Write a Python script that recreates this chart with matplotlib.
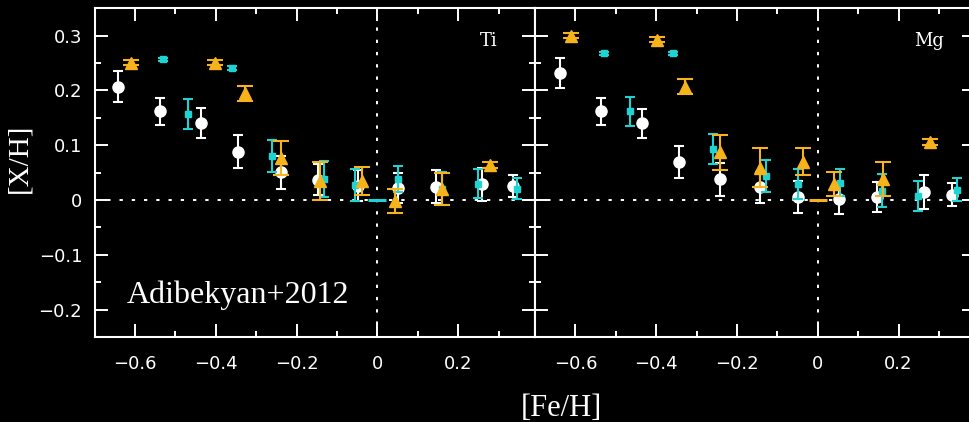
import matplotlib
matplotlib.use("Agg")
import matplotlib.pyplot as plt
from matplotlib.ticker import FixedLocator, FixedFormatter, MultipleLocator

# ---------------- data ----------------
ti_white_x = [-0.642, -0.539, -0.437, -0.346, -0.240, -0.146, -0.048, 0.051, 0.146, 0.260, 0.336]
ti_white_y = [0.207, 0.162, 0.141, 0.088, 0.051, 0.037, 0.026, 0.022, 0.024, 0.029, 0.026]
ti_white_e = [0.028, 0.025, 0.027, 0.030, 0.030, 0.028, 0.028, 0.027, 0.030, 0.030, 0.020]

ti_cyan_x = [-0.532, -0.468, -0.361, -0.261, -0.133, -0.055, 0.052, 0.161, 0.248, 0.345]
ti_cyan_y = [0.257, 0.157, 0.241, 0.080, 0.038, 0.028, 0.038, 0.021, 0.030, 0.021]
ti_cyan_e = [0.003, 0.027, 0.003, 0.029, 0.033, 0.029, 0.024, 0.030, 0.027, 0.020]

ti_orange_x = [-0.611, -0.401, -0.329, -0.240, -0.143, -0.038, 0.043, 0.159, 0.278]
ti_orange_y = [0.251, 0.251, 0.195, 0.077, 0.035, 0.035, -0.002, 0.020, 0.064]
ti_orange_e = [0.005, 0.005, 0.014, 0.031, 0.035, 0.026, 0.022, 0.029, 0.005]

mg_white_x = [-0.639, -0.537, -0.435, -0.344, -0.241, -0.144, -0.048, 0.052, 0.147, 0.262, 0.333]
mg_white_y = [0.232, 0.162, 0.140, 0.070, 0.038, 0.023, 0.006, 0.001, 0.006, 0.014, 0.010]
mg_white_e = [0.028, 0.025, 0.027, 0.029, 0.030, 0.028, 0.029, 0.027, 0.027, 0.031, 0.021]

mg_cyan_x = [-0.530, -0.466, -0.359, -0.260, -0.129, -0.049, 0.054, 0.159, 0.248, 0.344]
mg_cyan_y = [0.268, 0.162, 0.268, 0.093, 0.044, 0.029, 0.032, 0.017, 0.007, 0.019]
mg_cyan_e = [0.003, 0.027, 0.003, 0.028, 0.029, 0.028, 0.024, 0.030, 0.027, 0.021]

mg_orange_x = [-0.610, -0.399, -0.328, -0.241, -0.142, -0.037, 0.041, 0.161, 0.279]
mg_orange_y = [0.300, 0.293, 0.207, 0.087, 0.059, 0.070, 0.029, 0.038, 0.106]
mg_orange_e = [0.005, 0.005, 0.014, 0.032, 0.036, 0.025, 0.022, 0.031, 0.005]

zero_x = [0.0]
zero_y = [0.0]

x_ticks = [-0.6, -0.4, -0.2, 0.0, 0.2]
x_tick_labels = ["\u22120.6", "\u22120.4", "\u22120.2", "0", "0.2"]
y_ticks = [-0.2, -0.1, 0.0, 0.1, 0.2, 0.3]
y_tick_labels = ["\u22120.2", "\u22120.1", "0", "0.1", "0.2", "0.3"]

panel_labels = ["Ti", "Mg"]

# ---------------- style ----------------
WHITE = "#ffffff"
CYAN = "#1fd3d3"
ORANGE = "#f6b31c"
BG = "#000000"

fig = plt.figure(figsize=(9.7, 4.22), dpi=100, facecolor=BG)

W, H = 970.0, 422.0
ax_left_px, ax_top_px, ax_bot_px, ax_w_px = 94.7, 8.3, 337.0, 440.3
axes = []
for i in range(2):
    l = (ax_left_px + i * ax_w_px) / W
    ax = fig.add_axes([l, (H - ax_bot_px) / H, ax_w_px / W, (ax_bot_px - ax_top_px) / H])
    ax.set_facecolor(BG)
    axes.append(ax)

datasets = [
    (ti_white_x, ti_white_y, ti_white_e, ti_cyan_x, ti_cyan_y, ti_cyan_e,
     ti_orange_x, ti_orange_y, ti_orange_e, CYAN),
    (mg_white_x, mg_white_y, mg_white_e, mg_cyan_x, mg_cyan_y, mg_cyan_e,
     mg_orange_x, mg_orange_y, mg_orange_e, ORANGE),
]

for i, (ax, d) in enumerate(zip(axes, datasets)):
    wx, wy, we, cx, cy, ce, ox, oy, oe, zc = d
    ax.set_xlim(-0.70, 0.39)
    ax.set_ylim(-0.25, 0.35)

    dot = (0, (1.7, 4.6))
    ax.axhline(0, color=WHITE, lw=1.4, ls=dot, zorder=1)
    ax.axvline(0, color=WHITE, lw=1.4, ls=dot, zorder=1)

    ax.plot(zero_x, zero_y, marker="_", ms=13, mew=2.2, color=zc, ls="none", zorder=2)

    ax.errorbar(wx, wy, yerr=we, fmt="o", color=WHITE, mfc=WHITE, mec=WHITE,
                ms=8, elinewidth=1.5, capsize=3.8, capthick=1.5, zorder=3)
    ax.errorbar(cx, cy, yerr=ce, fmt="s", color=CYAN, mfc=CYAN, mec=CYAN,
                ms=5, elinewidth=1.5, capsize=3.3, capthick=1.5, zorder=4)
    ax.errorbar(ox, oy, yerr=oe, fmt="^", color=ORANGE, mfc=ORANGE, mec=ORANGE,
                ms=9, elinewidth=1.5, capsize=5.8, capthick=1.5, zorder=5)

    for s in ax.spines.values():
        s.set_color(WHITE)
        s.set_linewidth(1.5)

    ax.xaxis.set_major_locator(FixedLocator(x_ticks))
    ax.xaxis.set_major_formatter(FixedFormatter(x_tick_labels))
    ax.xaxis.set_minor_locator(MultipleLocator(0.1))
    ax.yaxis.set_major_locator(FixedLocator(y_ticks))
    ax.yaxis.set_minor_locator(MultipleLocator(0.05))
    if i == 0:
        ax.yaxis.set_major_formatter(FixedFormatter(y_tick_labels))
    else:
        ax.yaxis.set_major_formatter(FixedFormatter([""] * len(y_ticks)))

    ax.tick_params(which="both", direction="in", top=True, right=True,
                   colors=WHITE, width=1.4)
    ax.tick_params(which="major", length=9.5)
    ax.tick_params(which="minor", length=4.5)
    ax.tick_params(axis="x", which="major", pad=13, labelsize=13)
    ax.tick_params(axis="y", which="major", pad=9, labelsize=13)
    for lab in ax.get_xticklabels() + ax.get_yticklabels():
        lab.set_family(["DejaVu Sans"])
        lab.set_color(WHITE)

    ax.text(0.895, 0.885, panel_labels[i], transform=ax.transAxes,
            color=WHITE, fontsize=13, family="DejaVu Serif", ha="center", va="baseline")

axes[0].text(-0.6215, -0.1875, "Adibekyan+2012", color=WHITE, fontsize=23,
             family="Liberation Serif", ha="left", va="baseline")

fig.text(561 / W, 1 - 408 / H, "[Fe/H]", color=WHITE, fontsize=22,
         family="Liberation Serif", ha="center", va="center")
fig.text(19 / W, 1 - 158 / H, "[X/H]", color=WHITE, fontsize=21,
         family="Liberation Serif", ha="center", va="center", rotation=90)

fig.savefig("out.png", dpi=100, facecolor=BG)
